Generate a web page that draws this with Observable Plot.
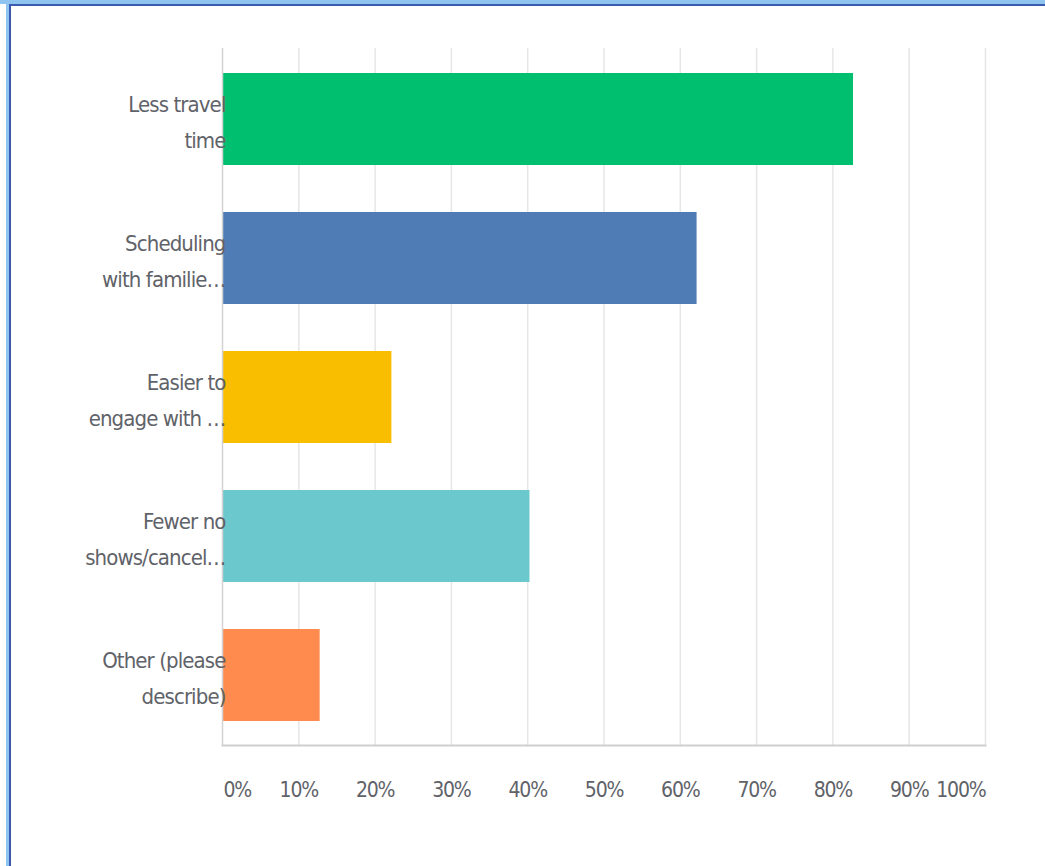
<!DOCTYPE html>
<html>
<head>
<meta charset="utf-8">
<script src="https://cdn.jsdelivr.net/npm/d3@7"></script>
<script src="https://cdn.jsdelivr.net/npm/@observablehq/plot@0.6"></script>
<style>
  html, body { margin: 0; padding: 0; background: #fff; }
  #wrap { position: relative; width: 1045px; height: 866px; overflow: hidden; }
  .b1 { position: absolute; background: #8fc3f0; }
  .b2 { position: absolute; background: #3b5cae; }
  #chart { position: absolute; left: 0; top: 0; }
  .ylab text { letter-spacing: -0.9px; }
  .xlab text { letter-spacing: -1.2px; }
</style>
</head>
<body>
<div id="wrap">
  <div id="chart"></div>
  <div class="b1" style="left:0;top:0;width:1045px;height:4px"></div>
  <div class="b1" style="left:6px;top:0;width:3px;height:866px"></div>
  <div class="b2" style="left:9px;top:4px;width:1036px;height:2px"></div>
  <div class="b2" style="left:9px;top:4px;width:2px;height:862px"></div>
</div>
<script>
const categories = [
  "Less travel\ntime",
  "Scheduling\nwith familie\u2026",
  "Easier to\nengage with \u2026",
  "Fewer no\nshows/cancel\u2026",
  "Other (please\ndescribe)"
];
const values = [82.7, 62.2, 22.2, 40.3, 12.8];
const colors = ["#00bf6f", "#507cb6", "#f9be00", "#6bc8cd", "#ff8b4f"];
const xTicks = [0, 10, 20, 30, 40, 50, 60, 70, 80, 90, 100];

const data = categories.map((c, i) => ({category: c, value: values[i], color: colors[i]}));
const font = "'DejaVu Sans Condensed', 'DejaVu Sans', sans-serif";
const midTicks = xTicks.filter(t => t > 0 && t < 100);

const chart = Plot.plot({
  width: 1045,
  height: 866,
  marginLeft: 222,
  marginRight: 60,
  marginTop: 48,
  marginBottom: 121,
  style: {fontFamily: font, background: "transparent"},
  x: {domain: [0, 100], axis: null},
  y: {domain: categories, axis: null, paddingInner: 0.34, paddingOuter: 0.17},
  marks: [
    Plot.ruleX(xTicks.filter(t => t > 0), {stroke: "#e6e6e6", strokeWidth: 1.5}),
    Plot.barX(data, {x: "value", y: "category", fill: "color"}),
    Plot.ruleX([0], {stroke: "#d2d2d2", strokeWidth: 1.5}),
    Plot.frame({anchor: "bottom", stroke: "#cfcfcf", strokeWidth: 2}),
    Plot.text(data, {x: 0, y: "category", text: "category", textAnchor: "end", dx: 3, dy: -1,
      lineHeight: 1.64, fontSize: 22, fill: "#5f6369", className: "ylab"}),
    Plot.text(midTicks, {x: d => d, text: d => d + "%", frameAnchor: "bottom", dy: 51,
      fontSize: 21, fill: "#5f6369", className: "xlab"}),
    Plot.text([0], {x: d => d, text: d => d + "%", frameAnchor: "bottom", dy: 51, textAnchor: "start", dx: 1,
      fontSize: 21, fill: "#5f6369", className: "xlab"}),
    Plot.text([100], {x: d => d, text: d => d + "%", frameAnchor: "bottom", dy: 51, textAnchor: "end",
      fontSize: 21, fill: "#5f6369", className: "xlab"})
  ]
});
document.getElementById("chart").appendChild(chart);
</script>
</body>
</html>
